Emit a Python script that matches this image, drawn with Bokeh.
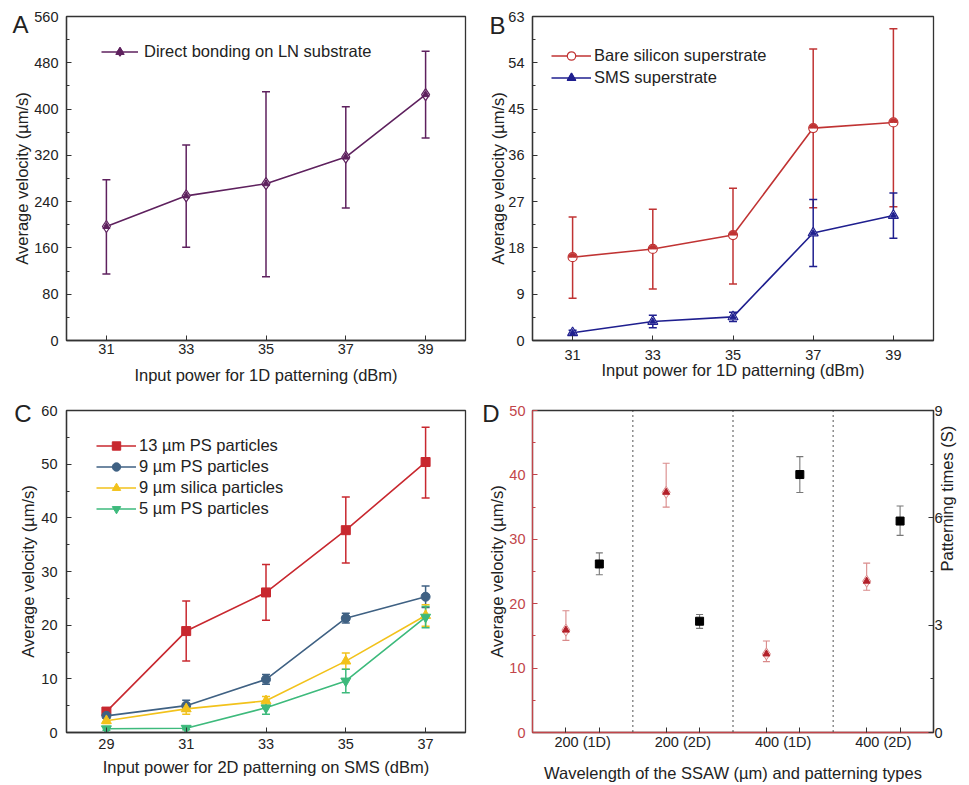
import math
from bokeh.plotting import figure
from bokeh.models import (ColumnDataSource, Whisker, TeeHead, FixedTicker, Range1d,
                          LinearAxis, Legend, LegendItem, Span)
from bokeh.layouts import gridplot
from bokeh.embed import file_html
from bokeh.resources import INLINE

FONT = "Liberation Sans"

# ---------------- data ----------------
# Panel A
a_power = [31, 33, 35, 37, 39]
a_vel = [197, 250, 271, 317, 425]
a_lo = [115, 161, 110, 229, 350]
a_hi = [278, 338, 430, 404, 500]

# Panel B
b_power = [31, 33, 35, 37, 39]
b_bare = [16.2, 17.8, 20.5, 41.3, 42.4]
b_bare_lo = [8.2, 10.0, 11.0, 25.8, 26.0]
b_bare_hi = [24.0, 25.5, 29.6, 56.7, 60.6]
b_sms = [1.5, 3.7, 4.6, 20.9, 24.3]
b_sms_lo = [1.0, 2.5, 3.7, 14.4, 19.9]
b_sms_hi = [2.0, 4.9, 5.5, 27.4, 28.7]

# Panel C
c_power = [29, 31, 33, 35, 37]
c_ps13 = [3.9, 18.9, 26.1, 37.7, 50.4]
c_ps13_lo = [3.3, 13.3, 20.9, 31.6, 43.7]
c_ps13_hi = [4.5, 24.5, 31.3, 43.9, 56.9]
c_ps9 = [3.1, 5.0, 9.9, 21.3, 25.3]
c_ps9_lo = [2.7, 4.0, 9.0, 20.4, 23.3]
c_ps9_hi = [3.5, 6.0, 10.8, 22.2, 27.3]
c_si9 = [2.2, 4.4, 5.9, 13.3, 21.8]
c_si9_lo = [1.7, 3.4, 5.1, 11.8, 19.8]
c_si9_hi = [2.7, 5.4, 6.7, 14.8, 23.8]
c_ps5 = [0.7, 0.8, 4.6, 9.6, 21.5]
c_ps5_lo = [0.4, 0.5, 3.4, 7.4, 19.5]
c_ps5_hi = [1.0, 1.1, 5.8, 11.8, 23.5]

# Panel D
d_types = ["200 (1D)", "200 (2D)", "400 (1D)", "400 (2D)"]
d_vel = [15.9, 37.3, 12.2, 23.5]
d_vel_lo = [14.3, 35.0, 11.0, 22.1]
d_vel_hi = [18.9, 41.8, 14.2, 26.3]
d_time = [4.71, 3.11, 7.21, 5.91]
d_time_lo = [4.41, 2.91, 6.71, 5.51]
d_time_hi = [5.02, 3.30, 7.71, 6.33]

TICK = "14.5px"
LAB = "16.5px"
TXT = "#222222"


def style_axis(ax, color="#333333", label_color=TXT):
    ax.axis_line_color = color
    ax.axis_line_width = 1.3
    ax.major_tick_line_color = color
    ax.minor_tick_line_color = color
    ax.major_tick_in = 5
    ax.major_tick_out = 0
    ax.minor_tick_in = 3
    ax.minor_tick_out = 0
    ax.major_label_text_font = FONT
    ax.major_label_text_font_size = TICK
    ax.major_label_text_color = label_color
    ax.axis_label_text_font = FONT
    ax.axis_label_text_font_size = LAB
    ax.axis_label_text_font_style = "normal"
    ax.axis_label_text_color = TXT


def make_fig(w, h, xr, yr, bl, br, bt, bb):
    p = figure(width=w, height=h, x_range=xr, y_range=yr,
               output_backend="svg", toolbar_location=None,
               min_border_left=bl, min_border_right=br,
               min_border_top=bt, min_border_bottom=bb)
    p.grid.visible = False
    p.outline_line_color = "#333333"
    p.outline_line_width = 1.3
    for ax in p.axis:
        style_axis(ax)
    return p


def set_std(p, xs, xl, ys, yl):
    p.xaxis.major_label_standoff = xs
    p.xaxis.axis_label_standoff = xl
    p.yaxis.major_label_standoff = ys
    p.yaxis.axis_label_standoff = yl


def whisk(p, xs, lo, hi, color, width=1.5, size=8, y_range_name="default"):
    src = ColumnDataSource(dict(x=xs, lo=lo, hi=hi))
    wk = Whisker(source=src, base="x", lower="lo", upper="hi",
                 line_color=color, line_width=width,
                 lower_head=TeeHead(size=size, line_color=color, line_width=width),
                 upper_head=TeeHead(size=size, line_color=color, line_width=width),
                 y_range_name=y_range_name)
    p.add_layout(wk)


def letter(p, txt, yval, std):
    ax = LinearAxis(ticker=FixedTicker(ticks=[yval], minor_ticks=[]),
                    major_label_overrides={yval: txt})
    ax.axis_line_color = None
    ax.major_tick_line_color = None
    ax.minor_tick_line_color = None
    ax.major_tick_in = 0
    ax.major_tick_out = 0
    ax.minor_tick_in = 0
    ax.minor_tick_out = 0
    ax.major_label_standoff = std
    ax.major_label_text_font = FONT
    ax.major_label_text_font_size = "24px"
    ax.major_label_text_color = TXT
    p.add_layout(ax, "left")


def legend(p, items, x, y, gw=40, std=3, spacing=0):
    lg = Legend(items=items, location=(x, y), border_line_color=None,
                background_fill_alpha=0, label_text_font=FONT,
                label_text_font_size=LAB, label_text_color=TXT,
                glyph_width=gw, glyph_height=21, label_height=21, spacing=spacing,
                padding=0, margin=0, label_standoff=std)
    p.add_layout(lg)


WL, WR = 479, 489
HT, HB = 392, 392

# ---------------- Panel A ----------------
pa = make_fig(WL, HT, Range1d(30, 40), Range1d(0, 560), 66, 14, 16, 52)
pa.xaxis.ticker = FixedTicker(ticks=a_power, minor_ticks=[])
pa.yaxis.ticker = FixedTicker(ticks=list(range(0, 561, 80)),
                              minor_ticks=list(range(40, 560, 80)))
pa.xaxis.axis_label = "Input power for 1D patterning (dBm)"
pa.yaxis.axis_label = "Average velocity (\u00b5m/s)"
set_std(pa, 3, 9, 8, 0)
PUR = "#5e215e"
whisk(pa, a_power, a_lo, a_hi, PUR)
la = pa.line(a_power, a_vel, line_color=PUR, line_width=1.6)
ma1 = pa.scatter(a_power, a_vel, marker="diamond", size=12, fill_color="white",
                 line_color=PUR, line_width=1.2)
ma2 = pa.scatter(a_power, a_vel, marker="triangle", size=7, fill_color=PUR, line_color=PUR)
legend(pa, [LegendItem(label="Direct bonding on LN substrate", renderers=[la, ma1, ma2])],
       35, 278, gw=37, std=6)
letter(pa, "A", 546, -18)

# ---------------- Panel B ----------------
pb = make_fig(WR, HT, Range1d(30, 40), Range1d(0, 63), 52, 35, 16, 52)
pb.xaxis.ticker = FixedTicker(ticks=b_power, minor_ticks=[])
pb.yaxis.ticker = FixedTicker(ticks=list(range(0, 64, 9)),
                              minor_ticks=[4.5 + 9 * i for i in range(7)])
pb.xaxis.axis_label = "Input power for 1D patterning (dBm)"
pb.yaxis.axis_label = "Average velocity (\u00b5m/s)"
set_std(pb, 9, -2, 8, -2)
RED_B = "#c03333"
BLU_B = "#1f1f8f"
whisk(pb, b_power, b_bare_lo, b_bare_hi, RED_B)
whisk(pb, b_power, b_sms_lo, b_sms_hi, BLU_B)
lb1 = pb.line(b_power, b_bare, line_color=RED_B, line_width=1.6)
mb1 = pb.scatter(b_power, b_bare, marker="circle", size=9, fill_color="white",
                 line_color=RED_B, line_width=1.2)
pb.wedge(b_power, b_bare, radius=3.8, radius_units="screen", start_angle=0,
         end_angle=math.pi, fill_color=RED_B, line_color=RED_B)
lb2 = pb.line(b_power, b_sms, line_color=BLU_B, line_width=1.6)
mb2 = pb.scatter(b_power, b_sms, marker="triangle", size=10, fill_color="white",
                 line_color=BLU_B, line_width=1.2)
mb3 = pb.scatter(b_power, b_sms, marker="triangle", size=6, fill_color=BLU_B, line_color=BLU_B)
legend(pb, [LegendItem(label="Bare silicon superstrate", renderers=[lb1, mb1]),
            LegendItem(label="SMS superstrate", renderers=[lb2, mb2, mb3])],
       19, 252, spacing=1)
letter(pb, "B", 61.3, -19)

# ---------------- Panel C ----------------
pc = make_fig(WL, HB, Range1d(28, 38), Range1d(0, 60), 66, 14, 18, 51)
pc.xaxis.ticker = FixedTicker(ticks=c_power, minor_ticks=[])
pc.yaxis.ticker = FixedTicker(ticks=list(range(0, 61, 10)),
                              minor_ticks=list(range(5, 60, 10)))
pc.xaxis.axis_label = "Input power for 2D patterning on SMS (dBm)"
pc.yaxis.axis_label = "Average velocity (\u00b5m/s)"
set_std(pc, 6, 6, 9, 1)
C_RED, C_BLU, C_YEL, C_GRN = "#c8282f", "#3f6183", "#f2c21b", "#3dba7c"
series_c = [
    ("13 \u00b5m PS particles", c_ps13, c_ps13_lo, c_ps13_hi, C_RED, "square", 9),
    ("9 \u00b5m PS particles", c_ps9, c_ps9_lo, c_ps9_hi, C_BLU, "circle", 9),
    ("9 \u00b5m silica particles", c_si9, c_si9_lo, c_si9_hi, C_YEL, "triangle", 10),
    ("5 \u00b5m PS particles", c_ps5, c_ps5_lo, c_ps5_hi, C_GRN, "inverted_triangle", 10),
]
items_c = []
for name, v, lo, hi, col, mk, sz in series_c:
    whisk(pc, c_power, lo, hi, col)
for name, v, lo, hi, col, mk, sz in series_c:
    l = pc.line(c_power, v, line_color=col, line_width=1.6)
    m = pc.scatter(c_power, v, marker=mk, size=sz, fill_color=col, line_color=col)
    items_c.append(LegendItem(label=name, renderers=[l, m]))
legend(pc, items_c, 30, 213)
letter(pc, "C", 59.35, -15)

# ---------------- Panel D ----------------
pd = make_fig(WR, HB, Range1d(0, 4), Range1d(0, 50), 52, 35, 18, 51)
pd.extra_y_ranges = {"t": Range1d(0, 9)}
D_RED = "#c2454a"
pd.xaxis.ticker = FixedTicker(ticks=[i + 0.5 for i in range(4)],
                              minor_ticks=[i + f for i in range(4) for f in (1 / 3, 2 / 3)])
pd.xaxis.major_label_overrides = {i + 0.5: t for i, t in enumerate(d_types)}
pd.xaxis.major_tick_in = 0
pd.xaxis.minor_tick_in = 5
pd.xaxis.axis_line_color = D_RED
pd.xaxis.minor_tick_line_color = "#333333"
pd.xaxis.axis_label = "Wavelength of the SSAW (\u00b5m) and patterning types"
pd.yaxis.ticker = FixedTicker(ticks=list(range(0, 51, 10)),
                              minor_ticks=list(range(5, 50, 10)))
pd.yaxis.axis_label = "Average velocity (\u00b5m/s)"
pd.yaxis.axis_line_color = D_RED
pd.yaxis.major_tick_line_color = D_RED
pd.yaxis.minor_tick_line_color = D_RED
pd.yaxis.major_label_text_color = D_RED
set_std(pd, 1, 11, 7, 0)
ax_r = LinearAxis(y_range_name="t", axis_label="Patterning times (S)",
                  ticker=FixedTicker(ticks=[0, 3, 6, 9], minor_ticks=[1.5, 4.5, 7.5]))
style_axis(ax_r)
ax_r.major_label_standoff = 1
ax_r.axis_label_standoff = 1
ax_r.axis_label_orientation = math.pi / 2
pd.add_layout(ax_r, "right")
for b in (1, 2, 3):
    pd.add_layout(Span(location=b, dimension="height", line_color="#222222",
                       line_width=1.6, line_dash="1 4"))
x_red = [i + 1 / 3 for i in range(4)]
x_blk = [i + 2 / 3 for i in range(4)]
whisk(pd, x_red, d_vel_lo, d_vel_hi, "#d98a8a", width=1.1, size=7)
whisk(pd, x_blk, d_time_lo, d_time_hi, "#777777", width=1.1, size=7, y_range_name="t")
pd.scatter(x_red, d_vel, marker="diamond", size=12, fill_color="#fbe9e9",
           line_color="#d98a8a", line_width=1.0)
pd.scatter(x_red, d_vel, marker="triangle", size=7, fill_color="#b3202a", line_color="#b3202a")
pd.scatter(x_blk, d_time, marker="square", size=8, fill_color="black", line_color="black",
           y_range_name="t")
letter(pd, "D", 49.6, -14)

grid = gridplot([[pa, pb], [pc, pd]], toolbar_location=None)
open("out.html", "w").write(file_html(grid, INLINE))
